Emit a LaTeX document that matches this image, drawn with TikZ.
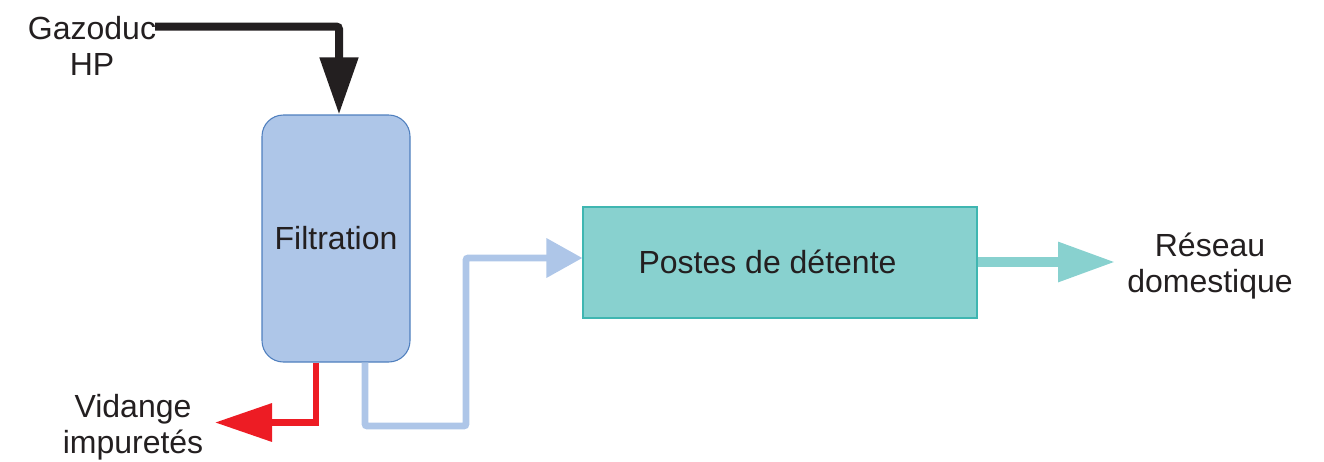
\documentclass[tikz,border=0pt]{standalone}
\usepackage{fontspec}
\setmainfont{Liberation Sans}
\usetikzlibrary{arrows.meta}
\definecolor{ink}{HTML}{231F20}
\definecolor{filtfill}{HTML}{AEC6E8}
\definecolor{filtline}{HTML}{4F7FBE}
\definecolor{postfill}{HTML}{88D1CF}
\definecolor{postline}{HTML}{3FB6B1}
\definecolor{drain}{HTML}{ED1C24}
\definecolor{pipeblue}{HTML}{AEC6E8}
\tikzset{
  txt/.style={font=\fontsize{24}{27}\selectfont, text=ink, align=center, inner sep=0pt},
  filtbox/.style={draw=filtline, fill=filtfill, line width=0.8pt, rounded corners=16pt,
    minimum width=111pt, minimum height=185.25pt, txt},
  postbox/.style={draw=postline, fill=postfill, line width=0.8pt,
    minimum width=295.5pt, minimum height=83.25pt, inner sep=0pt},
  inflow/.style={draw=ink, line width=6pt, rounded corners=2pt,
    -{Triangle[length=42.75pt, width=27.75pt]}, color=ink},
  drainflow/.style={draw=drain, line width=5pt,
    -{Triangle[length=42.75pt, width=27.75pt]}, color=drain},
  gasflow/.style={draw=pipeblue, line width=5pt, rounded corners=1.5pt,
    -{Triangle[length=27pt, width=28.5pt]}, color=pipeblue},
  outflow/.style={draw=postfill, line width=7pt,
    -{Triangle[length=42.75pt, width=28.5pt]}, color=postfill}
}
\begin{document}
\begin{tikzpicture}[x=0.75pt, y=-0.75pt]
\useasboundingbox (0,0) rectangle (1324,461);

% process units
\node[filtbox] (filt) at (336,238.5) {Filtration};
\node[postbox] (poste) at (780,262.5) {};
\node[txt] (postetxt) at (767.5,262) {Postes de détente};

% labels
\node[txt] (gaz) at (92,46) {Gazoduc\\HP};
\node[txt] (vid) at (133,427) {Vidange\\impuretés};
\node[txt] (res) at (1210,266) {Réseau\\domestique};

% route points
\coordinate (gazout) at (155,26.5);
\coordinate (vidtip) at (215,422.5);
\coordinate (b1) at (365,426);
\coordinate (b2) at (466,258);
\coordinate (restip) at (1115,262);

% high-pressure supply
\draw[inflow] (gazout) -| ([xshift=2.25pt]filt.north);
% drain of impurities
\draw[drainflow] ([xshift=-15pt]filt.south) |- (vidtip);
% filtered gas to the pressure-reduction stations
\draw[gasflow] ([xshift=21.75pt]filt.south) -- (b1) -- (b1 -| b2) -- (b2) -- (b2 -| poste.west);
% domestic network
\draw[outflow] (poste.east |- restip) -- (restip);
\end{tikzpicture}
\end{document}
